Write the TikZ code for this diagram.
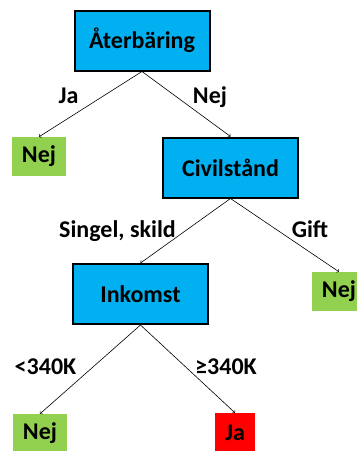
\documentclass[tikz,border=0pt]{standalone}
\usepackage{fontspec}
\setmainfont{Carlito}
\definecolor{boxblue}{HTML}{00B0F0}
\definecolor{leafgreen}{HTML}{92D050}
\definecolor{leafred}{HTML}{FF0000}
\begin{document}
\begin{tikzpicture}[x=1pt,y=-1pt,
  txt/.style={font=\fontsize{24}{28}\selectfont\bfseries},
  decision/.style={txt,draw=black,line width=2pt,fill=boxblue,minimum width=135pt,minimum height=60pt,inner sep=0pt},
  leaf/.style={txt,minimum width=54pt,minimum height=39pt,inner sep=0pt,fill=leafgreen},
  edge/.style={->,line width=0.6pt},
  lbl/.style={txt,anchor=base,inner sep=0pt}]
\useasboundingbox (0,0) rectangle (357,451);
\node[decision] (root) at (142,40.5) {Återbäring};
\node[decision] (civ) at (230.5,167.5) {Civilstånd};
\node[decision] (ink) at (140.5,294) {Inkomst};
\node[leaf] (nej1) at (39,156.5) {Nej};
\node[leaf] (nej2) at (339,291.5) {Nej};
\node[leaf] (nej3) at (40,433.5) {Nej};
\node[leaf,fill=leafred,minimum width=40pt] (ja) at (235,432.5) {Ja};
\draw[edge] (root.south) -- (nej1.north);
\draw[edge] (root.south) -- (civ.north);
\draw[edge] (civ.south) -- (ink.north);
\draw[edge] (civ.south) -- (nej2.north);
\draw[edge] (ink.south) -- (nej3.north);
\draw[edge] (ink.south) -- (ja.north);
\node[lbl] (l1) at (68.5,103) {Ja};
\node[lbl] (l2) at (210,103) {Nej};
\node[lbl] (l3) at (117.5,237) {Singel, skild};
\node[lbl] (l4) at (310,237) {Gift};
\node[lbl] (l5) at (45.5,374) {<340K};
\node[lbl] (l6) at (226,374) {≥340K};
\end{tikzpicture}
\end{document}
